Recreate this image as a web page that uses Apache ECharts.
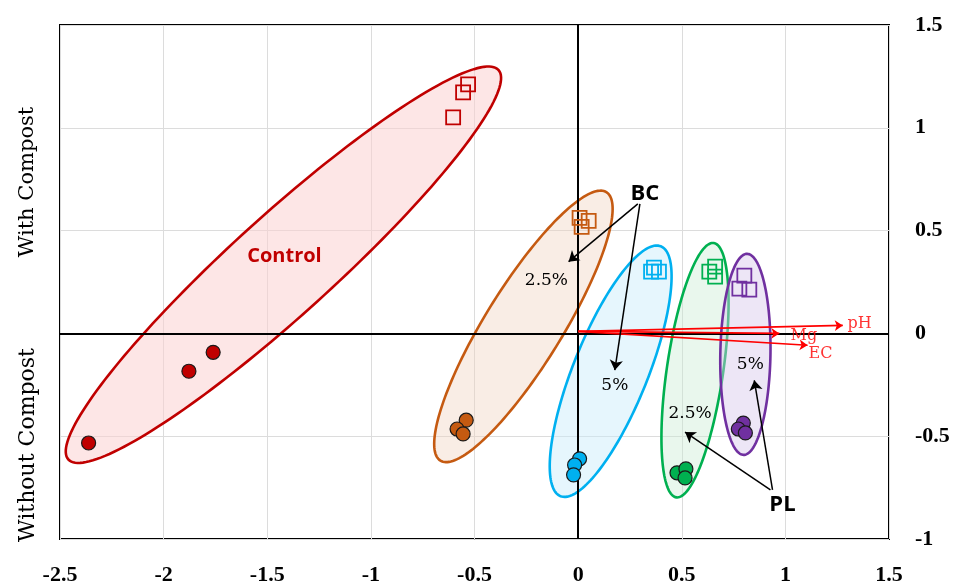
<!DOCTYPE html>
<html><head><meta charset="utf-8">
<script src="https://cdn.jsdelivr.net/npm/echarts@6/dist/echarts.min.js"></script>
<style>html,body{margin:0;padding:0;background:#fff}#c{width:957px;height:586px}</style>
</head><body><div id="c"></div>
<script>
// Tick settings
const xTicks = {min: -2.5, max: 1.5, interval: 0.5};
const yTicks = {min: -1, max: 1.5, interval: 0.5};

// Group names and colors
const groups = ['Control', 'BC 2.5%', 'BC 5%', 'PL 2.5%', 'PL 5%'];
const strokeColors = ['#c00000', '#c55a11', '#00b0f0', '#00b050', '#7030a0'];
const fillColors = ['rgba(252,210,210,0.55)', 'rgba(240,210,190,0.4)', 'rgba(200,235,250,0.45)', 'rgba(200,235,210,0.4)', 'rgba(215,200,235,0.45)'];

// Without compost (filled circles)
const withoutCompost = [
  [[-2.362, -0.533], [-1.878, -0.184], [-1.761, -0.092]],
  [[-0.540, -0.422], [-0.584, -0.465], [-0.555, -0.489]],
  [[0.007, -0.610], [-0.017, -0.640], [-0.022, -0.688]],
  [[0.477, -0.678], [0.520, -0.659], [0.516, -0.703]],
  [[0.797, -0.436], [0.773, -0.465], [0.807, -0.484]]
];
// With compost (open squares)
const withCompost = [
  [[-0.531, 1.211], [-0.555, 1.172], [-0.603, 1.051]],
  [[0.007, 0.562], [0.051, 0.547], [0.017, 0.518]],
  [[0.366, 0.320], [0.390, 0.300], [0.352, 0.300]],
  [[0.633, 0.300], [0.661, 0.325], [0.661, 0.276]],
  [[0.802, 0.281], [0.778, 0.218], [0.826, 0.213]]
];
// Confidence ellipses: [centerX, centerY, semiMajor, semiMinor, angleDeg]
const ellipses = [
  [-1.422, 0.334, 1.405, 0.242, 42.4],
  [-0.264, 0.034, 0.766, 0.186, 58.5],
  [0.157, -0.184, 0.654, 0.180, 68.3],
  [0.564, -0.179, 0.625, 0.136, 81.7],
  [0.807, -0.102, 0.489, 0.121, 89.0]
];
// Loading vectors
const vectorNames = ['pH', 'Mg', 'EC'];
const vectorEnds = [[1.277, 0.039], [0.971, 0.0], [1.107, -0.058]];
const vectorLabelPos = [[1.30, 0.046], [1.025, -0.014], [1.112, -0.100]];

// Annotation arrows
const annotArrows = [
  [[0.288, 0.630], [-0.046, 0.349]],
  [[0.298, 0.630], [0.177, -0.179]],
  [[0.928, -0.761], [0.516, -0.480]],
  [[0.938, -0.761], [0.850, -0.228]]
];
const annotTexts = [
  {text: 'BC', pos: [0.322, 0.678], kind: 'bold'},
  {text: 'PL', pos: [0.986, -0.833], kind: 'bold'},
  {text: '2.5%', pos: [-0.153, 0.257], kind: 'pct'},
  {text: '5%', pos: [0.177, -0.252], kind: 'pct'},
  {text: '2.5%', pos: [0.540, -0.392], kind: 'pct'},
  {text: '5%', pos: [0.831, -0.150], kind: 'pct'},
  {text: 'Control', pos: [-1.417, 0.373], kind: 'control'}
];

const chart = echarts.init(document.getElementById('c'));
const serif = '"Liberation Serif", "DejaVu Serif", serif';
const wideSerif = '"DejaVu Serif", "Liberation Serif", serif';

const series = [];
series.push({
  type: 'custom', z: 1,
  data: ellipses.map((e, i) => e.concat([i])),
  encode: {x: 0, y: 1},
  clip: false,
  renderItem: function (params, api) {
    const cx = api.value(0), cy = api.value(1), a = api.value(2), b = api.value(3);
    const th = api.value(4) * Math.PI / 180, idx = api.value(5);
    const pts = [];
    for (let k = 0; k < 180; k++) {
      const t = k / 180 * Math.PI * 2;
      const x = cx + a * Math.cos(t) * Math.cos(th) - b * Math.sin(t) * Math.sin(th);
      const y = cy + a * Math.cos(t) * Math.sin(th) + b * Math.sin(t) * Math.cos(th);
      pts.push(api.coord([x, y]));
    }
    return {type: 'polygon', shape: {points: pts},
      style: {fill: fillColors[idx], stroke: strokeColors[idx], lineWidth: 2.6}};
  }
});
// crosshair axes lines
series.push({
  type: 'scatter', data: [], z: 2,
  markLine: {silent: true, symbol: 'none', z: 2, label: {show: false},
    lineStyle: {color: '#000', width: 2, type: 'solid'},
    data: [{xAxis: 0}, {yAxis: 0}]}
});
// vectors
series.push({
  type: 'lines', coordinateSystem: 'cartesian2d', z: 4,
  symbol: ['none', 'arrow'], symbolSize: 8,
  lineStyle: {color: '#ff0000', width: 1.6, opacity: 1},
  data: vectorEnds.map(v => ({coords: [[0, 0.01], v]}))
});
series.push({
  type: 'scatter', z: 6, symbolSize: 0,
  itemStyle: {color: 'transparent'},
  data: vectorNames.map((n, i) => ({value: vectorLabelPos[i], name: n})),
  label: {show: true, position: 'right', distance: 0, formatter: '{b}', color: '#ff0000',
    fontFamily: wideSerif, fontSize: 16, textBorderWidth: 0}
});
// annotation arrows
series.push({
  type: 'lines', coordinateSystem: 'cartesian2d', z: 5,
  symbol: ['none', 'arrow'], symbolSize: 10,
  lineStyle: {color: '#000', width: 1.5, opacity: 1},
  data: annotArrows.map(a => ({coords: a}))
});
series.push({
  type: 'scatter', z: 6, symbolSize: 0,
  itemStyle: {color: '#000'},
  data: annotTexts.map(t => ({
    value: t.pos, name: t.text,
    label: t.kind === 'bold' ? {fontFamily: '"Open Sans", "Noto Sans", sans-serif', fontWeight: 'bold', fontSize: 22, color: '#000'}
      : t.kind === 'control' ? {fontFamily: '"Open Sans", "Noto Sans", sans-serif', fontWeight: 'bold', fontSize: 20, color: '#c00000'}
      : {fontFamily: wideSerif, fontSize: 17, color: '#000'}
  })),
  label: {show: true, position: [0, 0], align: 'center', verticalAlign: 'middle', formatter: '{b}',
    color: '#000', textBorderWidth: 0, opacity: 1}
});
for (let i = 0; i < groups.length; i++) {
  series.push({
    type: 'scatter', name: groups[i] + ' without compost', z: 7,
    symbol: 'circle', symbolSize: 14,
    itemStyle: {color: strokeColors[i], borderColor: '#1a1a1a', borderWidth: 1.2, opacity: 1},
    data: withoutCompost[i]
  });
  series.push({
    type: 'scatter', name: groups[i] + ' with compost', z: 7,
    symbol: 'rect', symbolSize: 14,
    itemStyle: {color: 'rgba(255,255,255,0)', borderColor: strokeColors[i], borderWidth: 1.8, opacity: 1},
    data: withCompost[i]
  });
}

chart.setOption({
  animation: false,
  backgroundColor: '#fff',
  grid: {left: 60, right: 68, top: 25, bottom: 44, show: true, borderColor: '#000', borderWidth: 2, containLabel: false},
  xAxis: {
    type: 'value', min: xTicks.min, max: xTicks.max, interval: xTicks.interval,
    axisLine: {show: false}, axisTick: {show: false},
    splitLine: {show: true, lineStyle: {color: '#dcdcdc', width: 1}},
    axisLabel: {margin: 25, fontFamily: serif, fontWeight: 'bold', fontSize: 22, color: '#000'}
  },
  yAxis: {
    type: 'value', position: 'right', min: yTicks.min, max: yTicks.max, interval: yTicks.interval,
    axisLine: {show: false}, axisTick: {show: false},
    splitLine: {show: true, lineStyle: {color: '#dcdcdc', width: 1}},
    axisLabel: {margin: 26, fontFamily: serif, fontWeight: 'bold', fontSize: 22, color: '#000', align: 'left'}
  },
  graphic: [
    {type: 'text', x: 28, y: 182, rotation: Math.PI / 2,
      style: {text: 'With Compost', font: '21px ' + wideSerif, fill: '#000', textAlign: 'center', textVerticalAlign: 'middle'}},
    {type: 'text', x: 28, y: 445, rotation: Math.PI / 2,
      style: {text: 'Without Compost', font: '22px ' + wideSerif, fill: '#000', textAlign: 'center', textVerticalAlign: 'middle'}}
  ],
  series: series
});
</script></body></html>
